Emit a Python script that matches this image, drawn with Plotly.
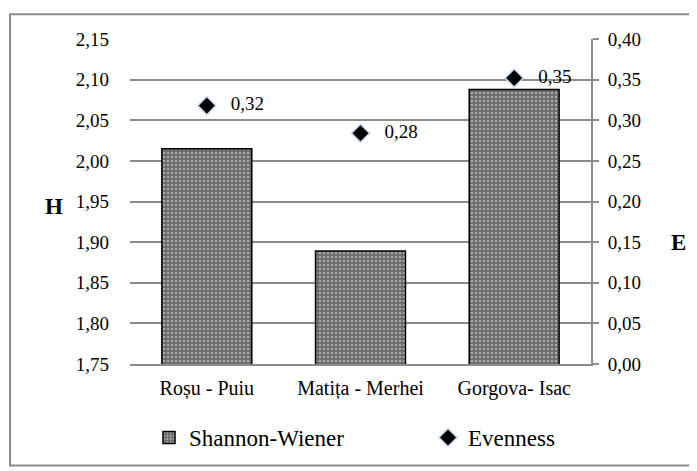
import plotly.graph_objects as go

categories = ["Roșu - Puiu", "Matița - Merhei", "Gorgova- Isac"]
shannon = [2.015, 1.889, 2.088]
evenness = [0.318, 0.284, 0.352]

FONT = "Liberation Serif"

fig = go.Figure()
fig.add_trace(go.Bar(
    x=categories, y=shannon, name="Shannon-Wiener",
    width=0.585,
    marker=dict(color="#7a7a7a", line=dict(color="black", width=1.5),
                pattern=dict(shape=".", fgcolor="#e6e6e6", bgcolor="#6a6a6a", size=4, solidity=0.35)),
    yaxis="y", legend="legend",
))
fig.add_trace(go.Scatter(
    x=categories, y=evenness, name="Evenness", mode="markers+text",
    marker=dict(symbol="diamond", size=14, color="black", line=dict(color="#c6d9f1", width=1.5)),
    texttemplate="   %{y:.2f}", textposition="middle right",
    textfont=dict(family=FONT, size=19, color="black"),
    yaxis="y2", legend="legend2",
))

LEG_Y = (358 - 432) / 327
fig.update_layout(
    width=689, height=463,
    margin=dict(l=122, r=106, t=31, b=105),
    paper_bgcolor="white", plot_bgcolor="white",
    separators=", ",
    font=dict(family=FONT, size=19, color="black"),
    showlegend=True,
    legend=dict(orientation="h", x=(141 - 122) / 461, xanchor="left", y=LEG_Y, yanchor="middle",
                font=dict(family=FONT, size=23), bgcolor="rgba(0,0,0,0)"),
    legend2=dict(orientation="h", x=(420 - 122) / 461, xanchor="left", y=LEG_Y, yanchor="middle",
                 font=dict(family=FONT, size=23), bgcolor="rgba(0,0,0,0)"),
    xaxis=dict(showline=True, linecolor="#8c8c8c", linewidth=2, ticks="",
               tickfont=dict(family=FONT, size=20), ticklabelstandoff=5),
    yaxis=dict(range=[1.75, 2.15], dtick=0.05, tickformat=".2f", showgrid=True,
               gridcolor="#8c8c8c", gridwidth=1.5, showline=False, ticks="",
               zeroline=False, ticklabelstandoff=20, tickfont=dict(family=FONT, size=19)),
    yaxis2=dict(range=[0, 0.4], dtick=0.05, tickformat=".2f", overlaying="y", side="right",
                showgrid=False, showline=True, linecolor="#8c8c8c", linewidth=2,
                ticks="outside", ticklen=6, tickcolor="#8c8c8c", tickwidth=2,
                zeroline=False, ticklabelstandoff=5, tickfont=dict(family=FONT, size=19)),
)

fig.add_annotation(text="<b>H</b>", xref="paper", yref="paper", x=(46 - 122) / 461, y=0.486,
                   xanchor="center", yanchor="middle",
                   showarrow=False, font=dict(family=FONT, size=23))
fig.add_annotation(text="<b>E</b>", xref="paper", yref="paper", x=(670 - 122) / 461, y=0.373,
                   xanchor="center", yanchor="middle",
                   showarrow=False, font=dict(family=FONT, size=23))

fig.add_shape(type="rect", xref="paper", yref="paper",
              x0=(2 - 122) / 461, x1=(700 - 122) / 461,
              y0=(358 - 460) / 327, y1=(358 - 6) / 327,
              line=dict(color="#8c8c8c", width=2), layer="below")

fig.write_html("out.html")
